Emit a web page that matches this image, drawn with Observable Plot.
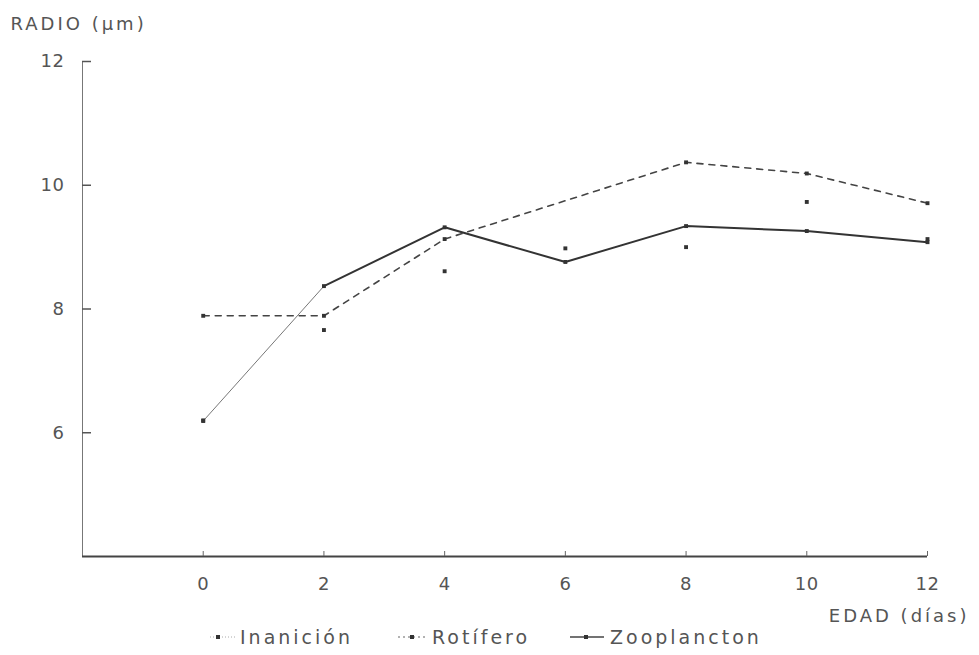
<!DOCTYPE html>
<html><head><meta charset="utf-8">
<script src="https://cdn.jsdelivr.net/npm/d3@7"></script>
<script src="https://cdn.jsdelivr.net/npm/@observablehq/plot@0.6"></script>
<style>
body{margin:0;background:#fff;}
#wrap{position:relative;width:979px;height:655px;font-family:"DejaVu Sans",sans-serif;color:#555;}
#wrap > svg{position:absolute;left:0;top:0;}
#legend{position:absolute;left:0;top:625px;width:979px;height:24px;}
.item{position:absolute;top:0;height:24px;display:flex;align-items:center;font-size:19px;letter-spacing:3px;color:#555;white-space:nowrap;}
.item svg{display:block;}
svg [aria-label="text"] text{letter-spacing:3px;}
svg [aria-label$="tick label"] text{letter-spacing:0.5px;}
</style></head><body><div id="wrap"></div>
<script>
// Data
const days = [0, 2, 4, 6, 8, 10, 12];
const inanicion = [6.2, 7.66, 8.61, 8.98, 9.0, 9.73, 9.13];
const rotifero = [7.89, 7.89, 9.13, null, 10.37, 10.19, 9.71];
const zooplancton = [6.19, 8.37, 9.32, 8.76, 9.34, 9.26, 9.08];
const xTicks = [0, 2, 4, 6, 8, 10, 12];
const yTicks = [6, 8, 10, 12];
const xDomain = [-2, 12];
const yDomain = [4, 12];
const yTitle = "RADIO (µm)";
const xTitle = "EDAD (días)";
const seriesNames = ["Inanición", "Rotífero", "Zooplancton"];

const ina = days.map((d, i) => ({d, v: inanicion[i], i})).filter(r => r.v != null);
const rot = days.map((d, i) => ({d, v: rotifero[i], i})).filter(r => r.v != null);
const zoo = days.map((d, i) => ({d, v: zooplancton[i], i})).filter(r => r.v != null);

const chart = Plot.plot({
  width: 979,
  height: 655,
  marginLeft: 82,
  marginRight: 52,
  marginTop: 61,
  marginBottom: 99,
  style: {fontFamily: "DejaVu Sans, sans-serif", fontSize: "18px", color: "#555", background: "white"},
  x: {domain: xDomain, label: null},
  y: {domain: yDomain, label: null},
  marks: [
    Plot.ruleX([xDomain[0]], {stroke: "#777", strokeWidth: 1}),
    Plot.ruleY([yDomain[0]], {stroke: "#444", strokeWidth: 2}),
    Plot.axisY({ticks: yTicks, tickSize: -9, tickPadding: 27, stroke: "#555", strokeWidth: 1.5}),
    Plot.axisX({ticks: xTicks, tickSize: -5, tickPadding: 26, stroke: "#666"}),
    Plot.line(zoo.filter(r => r.i <= 1), {x: "d", y: "v", stroke: "#777", strokeWidth: 1}),
    Plot.line(zoo.filter(r => r.i >= 1), {x: "d", y: "v", stroke: "#333", strokeWidth: 2}),
    Plot.line(rot, {x: "d", y: "v", stroke: "#444", strokeWidth: 1.6, strokeDasharray: "6,6"}),
    Plot.dot(zoo, {x: "d", y: "v", symbol: "square", r: 2.2, fill: "#333"}),
    Plot.dot(rot, {x: "d", y: "v", symbol: "square", r: 2.2, fill: "#333"}),
    Plot.dot(ina, {x: "d", y: "v", symbol: "square", r: 2.2, fill: "#333"}),
    Plot.text([yTitle], {frameAnchor: "top-left", dx: -72, dy: -44, textAnchor: "start", fontSize: 18, fill: "#555"}),
    Plot.text([xTitle], {frameAnchor: "bottom-right", dx: 42, dy: 65, textAnchor: "end", fontSize: 18, fill: "#555"})
  ]
});

const wrap = document.getElementById("wrap");
wrap.appendChild(chart);

const legend = document.createElement("div");
legend.id = "legend";
const items = [
  {name: seriesNames[0], left: 210, w: 26, dot: 8, stroke: "#aaa", dash: "1,2", sw: 1, gap: 4},
  {name: seriesNames[1], left: 398, w: 30, dot: 14, stroke: "#666", dash: "2,3", sw: 1.2, gap: 4},
  {name: seriesNames[2], left: 570, w: 34, dot: 16, stroke: "#444", dash: null, sw: 1.6, gap: 6}
];
for (const it of items) {
  const div = document.createElement("div");
  div.className = "item";
  div.style.left = it.left + "px";
  const s = d3.create("svg").attr("width", it.w).attr("height", 10);
  s.append("line").attr("x1", 0).attr("x2", it.w).attr("y1", 5).attr("y2", 5)
    .attr("stroke", it.stroke).attr("stroke-width", it.sw).attr("stroke-dasharray", it.dash);
  s.append("rect").attr("x", it.dot - 2).attr("y", 3).attr("width", 4).attr("height", 4).attr("fill", "#333");
  div.appendChild(s.node());
  const span = document.createElement("span");
  span.textContent = it.name;
  span.style.marginLeft = it.gap + "px";
  div.appendChild(span);
  legend.appendChild(div);
}
wrap.appendChild(legend);
</script>
</body></html>
